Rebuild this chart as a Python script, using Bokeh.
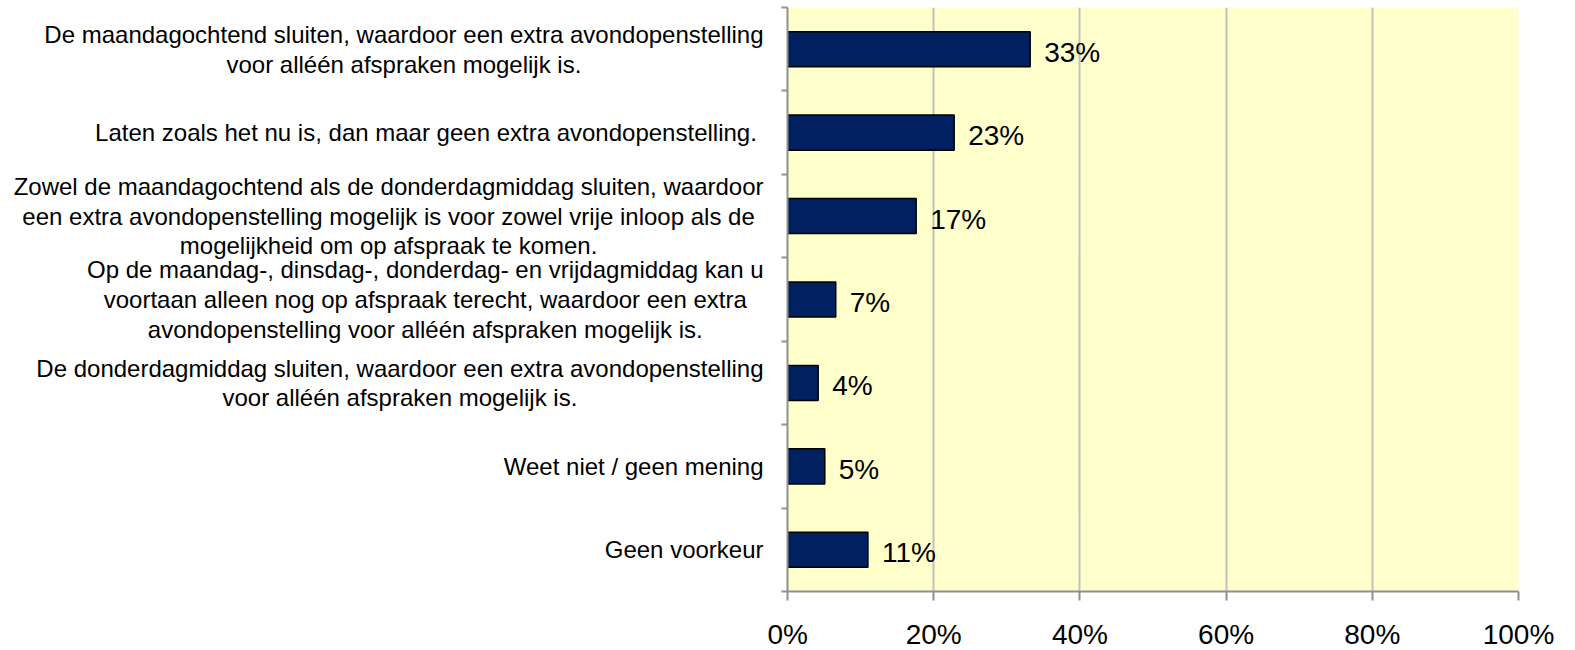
from bokeh.plotting import figure
from bokeh.layouts import row
from bokeh.models import FixedTicker, ColumnDataSource, Range1d
from bokeh.core.properties import value
from bokeh.embed import file_html
from bokeh.resources import INLINE

categories = [
    "De maandagochtend sluiten, waardoor een extra avondopenstelling\nvoor alléén afspraken mogelijk is.",
    "Laten zoals het nu is,  dan maar geen extra avondopenstelling.",
    "Zowel de maandagochtend als de donderdagmiddag sluiten, waardoor\neen extra avondopenstelling mogelijk is voor zowel vrije inloop als de\nmogelijkheid om op afspraak te komen.",
    "Op de maandag-, dinsdag-, donderdag- en vrijdagmiddag kan u\nvoortaan alleen nog op afspraak terecht, waardoor een extra\navondopenstelling voor alléén afspraken mogelijk is.",
    "De donderdagmiddag sluiten, waardoor een extra avondopenstelling\nvoor alléén afspraken mogelijk is.",
    "Weet niet / geen mening",
    "Geen voorkeur",
]
values = [33.2, 22.8, 17.6, 6.6, 4.2, 5.1, 11.0]
value_labels = ["33%", "23%", "17%", "7%", "4%", "5%", "11%"]
x_ticks = [0, 20, 40, 60, 80, 100]
x_tick_labels = ["0%", "20%", "40%", "60%", "80%", "100%"]

n = len(categories)
ypos = [n - 1 - i for i in range(n)]
boundaries = [k - 0.5 for k in range(n + 1)]

FONT = "Liberation Sans"
GRID = "#C0C0C0"
AXIS = "#909090"

LEFT_W = 767      # width of the category-label panel
LABEL_GAP = 4     # gap between label block and panel edge
FRAME_H = 584
TOP = 7
BOTTOM = 59

yr = Range1d(-0.5, n - 0.5)

# ---- left panel with category labels (right-anchored blocks, centred lines)
lsrc = ColumnDataSource(dict(y=ypos, cat=categories))
left = figure(frame_width=LEFT_W, frame_height=FRAME_H,
              x_range=Range1d(0, LEFT_W), y_range=yr,
              x_axis_type=None, y_axis_type=None,
              output_backend="svg", toolbar_location=None,
              min_border_left=0, min_border_right=0,
              min_border_top=TOP, min_border_bottom=BOTTOM,
              outline_line_color=None, border_fill_color="white",
              background_fill_color="white")
left.grid.visible = False
left.text(x=LEFT_W - LABEL_GAP, y="y", text="cat", source=lsrc,
          anchor="center_right", text_align="center", text_baseline="middle",
          text_font=value(FONT), text_font_size="24px",
          text_line_height=1.1, text_color="black")

# ---- main chart
src = ColumnDataSource(dict(y=ypos, v=values, lab=value_labels))
p = figure(frame_width=731, frame_height=FRAME_H,
           x_range=Range1d(0, 100), y_range=yr,
           output_backend="svg", toolbar_location=None,
           min_border_left=20, min_border_right=57,
           min_border_top=TOP, min_border_bottom=BOTTOM,
           background_fill_color="#FFFFCC", border_fill_color="white",
           outline_line_color=None)

p.hbar(y="y", left=0, right="v", height=0.42, source=src,
       fill_color="#002060", line_color="black", line_width=1.5)

p.text(x="v", y="y", text="lab", source=src, x_offset=14, y_offset=3,
       text_baseline="middle", text_align="left",
       text_font=value(FONT), text_font_size="28px", text_color="black")

p.xaxis.ticker = FixedTicker(ticks=x_ticks)
p.xaxis.major_label_overrides = {t: l for t, l in zip(x_ticks, x_tick_labels)}
p.xaxis.major_tick_out = 9
p.xaxis.major_tick_in = 0
p.xaxis.minor_tick_line_color = None
p.xaxis.axis_line_color = AXIS
p.xaxis.axis_line_width = 2
p.xaxis.major_tick_line_color = AXIS
p.xaxis.major_tick_line_width = 2
p.xaxis.major_label_text_font = FONT
p.xaxis.major_label_text_font_size = "28px"
p.xaxis.major_label_text_color = "black"
p.xaxis.major_label_standoff = 18

# y axis: only the category-boundary tick marks, labels live in the left panel
p.yaxis.ticker = FixedTicker(ticks=[], minor_ticks=boundaries)
p.yaxis.major_label_standoff = 0
p.yaxis.major_tick_out = 0
p.yaxis.major_tick_in = 0
p.yaxis.major_tick_line_color = None
p.yaxis.minor_tick_out = 6
p.yaxis.minor_tick_in = 0
p.yaxis.minor_tick_line_color = AXIS
p.yaxis.minor_tick_line_width = 2
p.yaxis.axis_line_color = AXIS
p.yaxis.axis_line_width = 2

p.xgrid.ticker = FixedTicker(ticks=x_ticks)
p.xgrid.grid_line_color = GRID
p.xgrid.grid_line_width = 2
p.ygrid.grid_line_color = None

layout = row(left, p)
open("out.html", "w").write(file_html(layout, INLINE))
